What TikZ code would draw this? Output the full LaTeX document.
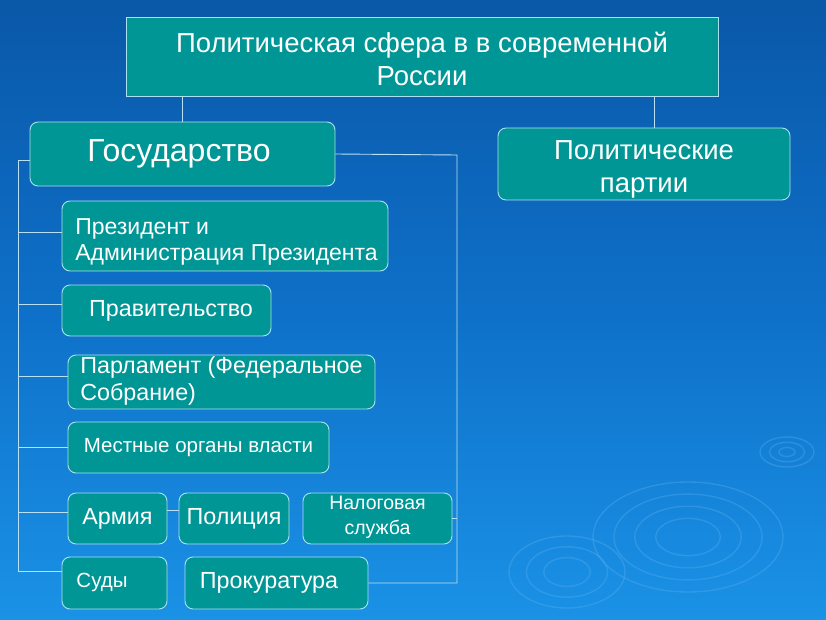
\documentclass[tikz,border=0pt]{standalone}
\usepackage{fontspec}
\setmainfont{Liberation Sans}
\definecolor{bgtop}{RGB}{10,88,168}
\definecolor{bgmid}{RGB}{14,112,200}
\definecolor{bgbot}{RGB}{26,146,230}
\definecolor{boxfill}{RGB}{0,150,150}
\definecolor{boxline}{RGB}{170,225,240}
\definecolor{conn}{RGB}{185,225,245}
\definecolor{ripple}{RGB}{90,175,240}
\tikzset{
  box/.style={draw=boxline, line width=0.9pt, fill=boxfill, text=white, rounded corners=8pt, inner sep=0pt, font=\fontsize{23.3}{26}\selectfont},
  sqbox/.style={draw=boxline, line width=0.9pt, fill=boxfill, text=white, inner sep=0pt},
  link/.style={draw=conn, line width=0.9pt},
  rip/.style={draw=ripple, line width=1.4pt, opacity=0.35}
}
\newcommand{\shiftdown}[2]{\raisebox{-#1}[\height][\depth]{#2}}
\begin{document}
\begin{tikzpicture}[x=1pt,y=-1pt]
\useasboundingbox (0,0) rectangle (826,620);
\shade[top color=bgtop, bottom color=bgbot, middle color=bgmid] (0,0) rectangle (826,620);
% ripples
\foreach \r in {1,0.78,0.56,0.34} {\draw[rip] (688,537) ellipse ({95*\r} and {55*\r});}
\foreach \r in {1,0.7,0.4} {\draw[rip] (567,572) ellipse ({58*\r} and {36*\r});}
\foreach \r in {1,0.65,0.3} {\draw[rip] (787,452) ellipse ({27*\r} and {15*\r});}
% nodes
\node[sqbox, minimum width=592pt, minimum height=79pt, font=\fontsize{27.5}{32}\selectfont] (top) at (422,56.5) {\shiftdown{6pt}{\begin{tabular}{@{}c@{}}Политическая сфера в в современной\\[1pt]России\end{tabular}}};
\node[box, minimum width=305pt, minimum height=64pt, font=\fontsize{32}{35}\selectfont] (gos) at (182.5,154) {Государство\kern7pt};
\node[box, minimum width=292pt, minimum height=72pt, font=\fontsize{27.5}{33}\selectfont] (party) at (644,164) {\shiftdown{5pt}{\begin{tabular}{@{}c@{}}Политические\\партии\end{tabular}}};
\node[box, minimum width=326pt, minimum height=70pt, font=\fontsize{23}{26}\selectfont] (pres) at (225,236) {\kern3pt\shiftdown{6pt}{\begin{tabular}{@{}l@{}}Президент и\\Администрация Президента\end{tabular}}};
\node[box, minimum width=209pt, minimum height=51pt] (prav) at (166.5,310.5) {\kern9pt Правительство};
\node[box, minimum width=307pt, minimum height=52pt, font=\fontsize{23.3}{27}\selectfont] (parl) at (221.5,382) {\begin{tabular}{@{}l@{}}Парламент (Федеральное\\Собрание)\end{tabular}};
\node[box, minimum width=261pt, minimum height=51pt, font=\fontsize{20.5}{23}\selectfont] (mest) at (198.5,447.5) {Местные органы власти};
\node[box, minimum width=99pt, minimum height=51pt] (arm) at (117.5,518.5) {Армия};
\node[box, minimum width=110pt, minimum height=51pt] (pol) at (234,518.5) {Полиция};
\node[box, minimum width=149pt, minimum height=51pt, font=\fontsize{19.5}{25}\selectfont] (nal) at (377.5,518.5) {\shiftdown{-2pt}{\begin{tabular}{@{}c@{}}Налоговая\\служба\end{tabular}}};
\node[box, minimum width=105pt, minimum height=52pt, font=\fontsize{20.5}{23}\selectfont] (sud) at (114.5,583) {\raisebox{6pt}{Суды}\kern25pt};
\node[box, minimum width=183pt, minimum height=52pt] (prok) at (276.5,583) {Прокуратура\kern15pt};
% connectors
\coordinate (ltop) at (18,160);
\coordinate (lbot) at (18,571);
\coordinate (rtop) at (457,155);
\coordinate (rbot) at (457,583);
\draw[link] (gos.north) -- (gos.north |- top.south);
\draw[link] ([xshift=10pt]party.north) -- ([xshift=10pt]party.north |- top.south);
\draw[link] ([yshift=-6pt]gos.west) -- (ltop) -- (lbot) -- (sud.west |- lbot);
\draw[link] ([yshift=4pt]pres.west) -- ([yshift=4pt]pres.west -| ltop);
\draw[link] ([yshift=6pt]prav.west) -- ([yshift=6pt]prav.west -| ltop);
\draw[link] ([yshift=6pt]parl.west) -- ([yshift=6pt]parl.west -| ltop);
\draw[link] (mest.west) -- (mest.west -| ltop);
\draw[link] ([yshift=6pt]arm.west) -- ([yshift=6pt]arm.west -| ltop);
\draw[link] ([yshift=8pt]arm.east) -- ([yshift=8pt]pol.west);
\draw[link] (gos.east) -- (rtop) -- (rbot) -- (prok.east);
\draw[link] (nal.east) -- (nal.east -| rtop);
\end{tikzpicture}
\end{document}
